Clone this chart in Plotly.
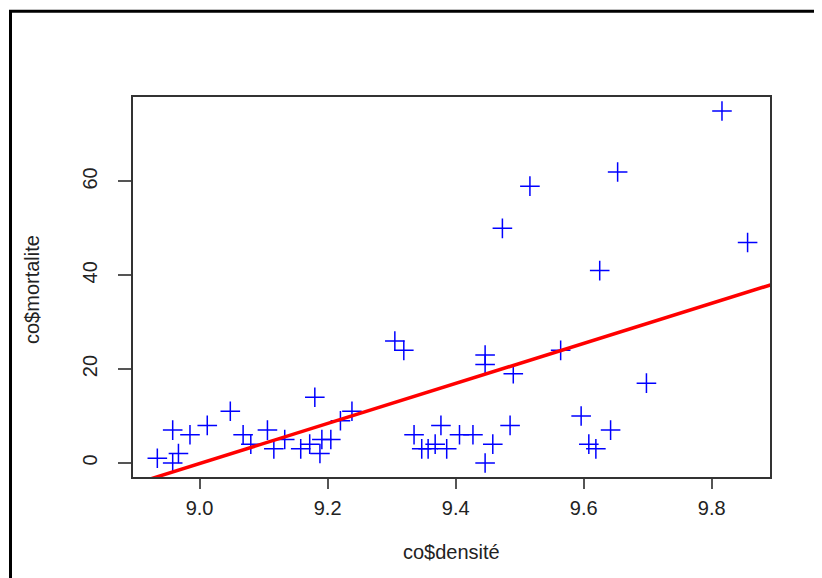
import numpy as np
import plotly.graph_objects as go

# data
densite = [8.934, 8.958, 8.967, 8.958, 8.985, 9.012, 9.048, 9.068, 9.080, 9.106,
           9.116, 9.133, 9.158, 9.172, 9.180, 9.188, 9.191, 9.205, 9.220, 9.238,
           9.305, 9.319, 9.335, 9.347, 9.357, 9.368, 9.377, 9.386, 9.406, 9.427,
           9.446, 9.446, 9.446, 9.458, 9.485, 9.490, 9.564, 9.516, 9.473, 9.816,
           9.653, 9.856, 9.625, 9.698, 9.596, 9.642, 9.608, 9.619]
mortalite = [1, 0, 2, 7, 6, 8, 11, 6, 4, 7,
             3, 5, 3, 4, 14, 2, 5, 5, 9, 11,
             26, 24, 6, 3, 3, 4, 8, 3, 6, 6,
             23, 21, 0, 4, 8, 19, 24, 59, 50, 75,
             62, 47, 41, 17, 10, 7, 4, 3]
x_ticks = [9.0, 9.2, 9.4, 9.6, 9.8]
y_ticks = [0, 20, 40, 60]
x_label = "co$densité"
y_label = "co$mortalite"

slope, intercept = np.polyfit(densite, mortalite, 1)

OFF = 8  # page body margin
W, H = 822 - OFF, 578 - OFF
ML, MR, MT, MB = 133 - OFF, 822 - 770, 97 - OFF, 578 - 477
PW, PH = W - ML - MR, H - MT - MB

def px(xpix):
    return (xpix - OFF - ML) / PW

def py(ypix):
    return (MT + PH - (ypix - OFF)) / PH

xr = [8.896, 9.891]
yr = [-3, 78]

fig = go.Figure()
fig.add_trace(go.Scatter(
    x=densite, y=mortalite, mode="markers",
    marker=dict(symbol="cross-thin", size=14, color="#0000FF",
                line=dict(color="#0000FF", width=1.5)),
    showlegend=False, hoverinfo="skip"))
lx = np.array([xr[0] - 0.1, xr[1] + 0.1])
fig.add_trace(go.Scatter(
    x=lx, y=intercept + slope * lx, mode="lines",
    line=dict(color="#FF0000", width=3.5), showlegend=False, hoverinfo="skip"))

font = "Liberation Sans, Arial, sans-serif"
fs = 20
fig.update_layout(
    width=W, height=H,
    margin=dict(l=ML, r=MR, t=MT, b=MB, pad=0),
    paper_bgcolor="white", plot_bgcolor="white",
    font=dict(family=font, size=fs, color="#222"),
    xaxis=dict(range=xr, tickvals=x_ticks, ticktext=[f"{v:.1f}" for v in x_ticks],
               showgrid=False, zeroline=False, showline=True, mirror=True,
               linecolor="#333", linewidth=1.5, ticks="outside", ticklen=10,
               tickwidth=1.5, tickcolor="#555", ticklabelstandoff=2,
               tickfont=dict(size=fs, color="#222")),
    yaxis=dict(range=yr, tickvals=y_ticks, ticktext=[str(v) for v in y_ticks],
               showgrid=False, zeroline=False, showline=True, mirror=True,
               linecolor="#333", linewidth=1.5, ticks="outside", ticklen=13,
               tickwidth=1.5, tickcolor="#555", tickangle=-90, ticklabelstandoff=13,
               tickfont=dict(size=fs, color="#222")),
    annotations=[
        dict(text=x_label, xref="paper", yref="paper",
             x=px(451), y=py(552), xanchor="center", yanchor="middle",
             showarrow=False, font=dict(size=fs, color="#222")),
        dict(text=y_label, xref="paper", yref="paper",
             x=px(32), y=py(289), xanchor="center", yanchor="middle",
             textangle=-90, showarrow=False, font=dict(size=fs, color="#222")),
    ],
    shapes=[
        dict(type="rect", xref="paper", yref="paper",
             x0=px(10.5), x1=px(W + 40), y0=py(H + 40), y1=py(11.3),
             line=dict(color="black", width=3), fillcolor="rgba(0,0,0,0)"),
    ],
)

fig.write_html("out.html")
